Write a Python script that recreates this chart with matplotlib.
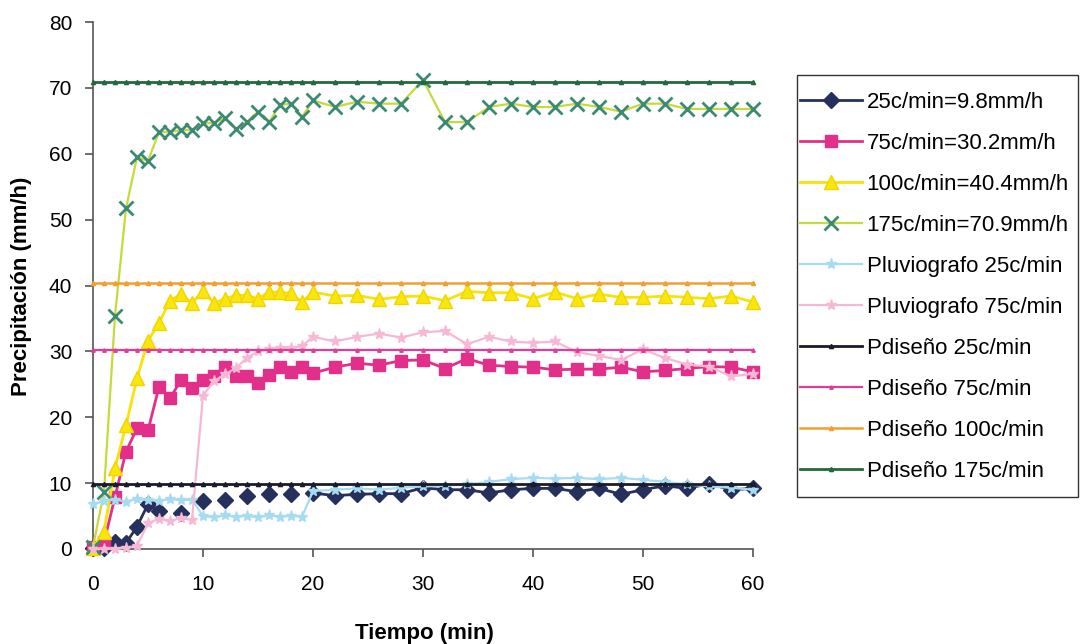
import numpy as np
import matplotlib
matplotlib.use("Agg")
import matplotlib.pyplot as plt
from matplotlib.patches import Rectangle

plt.rcParams['font.family'] = ['Liberation Sans', 'DejaVu Sans']

nan = np.nan
# time (min)
tiempo = list(range(0, 21)) + list(range(22, 61, 2))

c25 = [0.2, 0.2, 1.1, 0.9, 3.4, 6.8, 5.7, nan, 5.5, nan, 7.3, nan, 7.4, nan, 8.1, nan, 8.4, nan, 8.4, nan, 8.5,
       8.1, 8.3, 8.4, 8.4, 9.3, 9.0, 9.0, 8.5, 9.0, 9.2, 9.2, 8.7, 9.2, 8.3, 9.0, 9.6, 9.2, 9.9, 9.0, 9.2]
c75 = [0.3, 1.0, 7.9, 14.8, 18.3, 18.0, 24.6, 22.9, 25.6, 24.4, 25.7, 26.3, 27.7, 26.2, 26.3, 25.2, 26.4, 27.7, 26.9, 27.7, 26.7,
       27.6, 28.2, 27.9, 28.6, 28.7, 27.4, 28.9, 27.9, 27.7, 27.6, 27.2, 27.3, 27.3, 27.6, 26.9, 27.1, 27.4, 27.7, 27.6, 26.9]
c100 = [0.2, 2.6, 12.3, 18.8, 25.9, 31.6, 34.3, 37.7, 38.7, 37.3, 39.2, 37.3, 38.0, 38.5, 38.5, 38.0, 39.0, 39.0, 38.8, 37.5, 39.0,
        38.4, 38.5, 37.9, 38.3, 38.4, 37.7, 39.1, 38.9, 38.9, 38.0, 39.0, 38.0, 38.7, 38.2, 38.2, 38.4, 38.2, 38.0, 38.4, 37.5]
c175 = [0.3, 8.7, 35.4, 51.7, 59.5, 58.9, 63.3, 63.3, 63.6, 63.6, 64.6, 64.7, 65.4, 63.8, 64.8, 66.4, 64.8, 67.4, 67.6, 65.6, 68.1,
        67.1, 67.9, 67.6, 67.6, 71.2, 64.8, 64.8, 67.1, 67.6, 67.1, 67.1, 67.6, 67.1, 66.4, 67.6, 67.6, 66.8, 66.8, 66.8, 66.8]
pluvio25 = [6.8, 7.3, 7.5, 7.2, 7.6, 7.4, 7.3, 7.6, 7.4, 7.5, 5.0, 4.8, 5.1, 4.9, 5.0, 4.8, 5.1, 4.9, 5.0, 4.9, 8.8,
            9.0, 9.2, 9.0, 9.3, 9.5, 9.6, 9.8, 10.2, 10.6, 10.8, 10.7, 10.8, 10.6, 10.8, 10.5, 10.2, 9.8, 9.5, 9.3, 9.0]
pluvio75 = [0.0, 0.0, 0.0, 0.2, 0.5, 3.9, 4.6, 4.2, 4.7, 4.4, 23.3, 25.5, 26.5, 27.5, 29.0, 30.0, 30.3, 30.5, 30.5, 30.8, 32.2,
            31.5, 32.2, 32.7, 32.1, 32.9, 33.1, 31.1, 32.2, 31.5, 31.3, 31.5, 29.9, 29.3, 28.7, 30.3, 29.0, 28.0, 27.7, 26.2, 26.6]
# design intensities (mm/h)
pd25, pd75, pd100, pd175 = 9.8, 30.2, 40.4, 70.9

labels = ["25c/min=9.8mm/h", "75c/min=30.2mm/h", "100c/min=40.4mm/h", "175c/min=70.9mm/h",
          "Pluviografo 25c/min", "Pluviografo 75c/min",
          "Pdiseño 25c/min", "Pdiseño 75c/min", "Pdiseño 100c/min", "Pdiseño 175c/min"]

fig = plt.figure(figsize=(10.8, 6.44), dpi=100)
ax = fig.add_axes([93/1080, 1-549/644, (753-93)/1080, (549-22)/644])

t = np.array(tiempo, dtype=float)
n = len(t)

h = []
h += ax.plot(t, c25, color='#26305C', lw=2, marker='D', ms=8.5, mfc='#26305C', mec='#26305C', clip_on=False, zorder=3)
h += ax.plot(t, c75, color='#E2308A', lw=2, marker='s', ms=8.5, mfc='#E2308A', mec='#E2308A', clip_on=False, zorder=3)
h += ax.plot(t, c100, color='#F7E20A', lw=2, marker='^', ms=9.5, mfc='#F9E60C', mec='#F2D400', clip_on=False, zorder=3)
h += ax.plot(t, c175, color='#C6DA3A', lw=1.6, marker='x', ms=10.5, mec='#3C8A74', mew=2, clip_on=False, zorder=3)
h += ax.plot(t, pluvio25, color='#A6DCF2', lw=1.6, marker='*', ms=8, mfc='#A6DCF2', mec='#A6DCF2', clip_on=False, zorder=3)
h += ax.plot(t, pluvio75, color='#F6B8D4', lw=1.6, marker='*', ms=8, mfc='#F6B8D4', mec='#F6B8D4', clip_on=False, zorder=3)
h += ax.plot(t, [pd25]*n, color='#1A1C2C', lw=2, marker='^', ms=3, clip_on=False, zorder=4)
h += ax.plot(t, [pd75]*n, color='#E23C9A', lw=1.6, marker='^', ms=2.5, clip_on=False, zorder=4)
h += ax.plot(t, [pd100]*n, color='#F0A030', lw=1.8, marker='^', ms=3, clip_on=False, zorder=4)
h += ax.plot(t, [pd175]*n, color='#24693E', lw=2, marker='^', ms=3, clip_on=False, zorder=4)

ax.set_xlim(0, 60)
ax.set_ylim(0, 80)
ax.set_xticks(range(0, 61, 10))
ax.set_yticks(range(0, 81, 10))
for s in ['top', 'right']:
    ax.spines[s].set_visible(False)
for s in ['left', 'bottom']:
    ax.spines[s].set_color('#555555')
    ax.spines[s].set_linewidth(1.2)
ax.tick_params(axis='both', direction='out', length=6, width=1.2, color='#555555', labelsize=15)
ax.tick_params(axis='x', pad=13)
ax.tick_params(axis='y', pad=9)

fig.text(22/1080, 1-286/644, "Precipitación (mm/h)", rotation=90, ha='center', va='center',
         fontsize=16, fontweight='bold')
fig.text(424/1080, 1-633/644, "Tiempo (min)", ha='center', va='center', fontsize=16, fontweight='bold')

# legend frame drawn separately
fig.patches.append(Rectangle((797/1080, 1-497/644), (1078-797)/1080, (497-75)/644,
                             transform=fig.transFigure, fill=False, edgecolor='#333333', lw=1.0))
leg = fig.legend(h, labels, loc='upper left', bbox_to_anchor=(800/1080, 1-92/644),
                 bbox_transform=fig.transFigure, fontsize=16, frameon=False,
                 handlelength=2.8, handletextpad=0.2, labelspacing=0.9,
                 borderpad=0, borderaxespad=0)

fig.savefig('out.png', dpi=100, facecolor='white')
